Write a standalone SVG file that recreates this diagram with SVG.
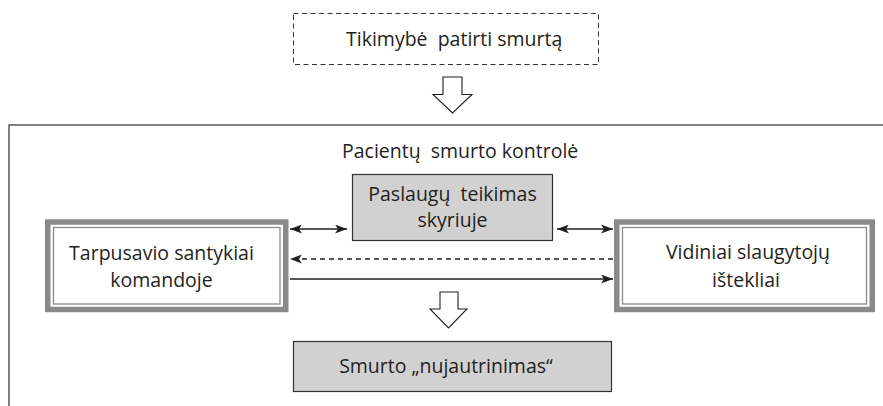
<svg xmlns="http://www.w3.org/2000/svg" width="883" height="406" viewBox="0 0 883 406">
<style>
  text { font-family: "Open Sans", "Noto Sans", "Liberation Sans", sans-serif; font-size: 19.5px; fill: #231f20; text-anchor: middle; white-space: pre; }
  .start { text-anchor: start; }
  .frame { fill: none; stroke: #555; stroke-width: 1.5; }
  .dbl-outer { fill: #fff; stroke: #8a8a8a; stroke-width: 5.5; }
  .dbl-inner { fill: none; stroke: #8a8a8a; stroke-width: 1.3; }
  .grey { fill: #d1d1d1; stroke: #333; stroke-width: 1.2; }
  .bigarrow { fill: #fff; stroke: #231f20; stroke-width: 1.1; stroke-linejoin: miter; }
  .conn { stroke: #231f20; stroke-width: 1.3; fill: none; }
</style>
<defs>
  <marker id="ah" viewBox="0 0 12 9" refX="12" refY="4.5" markerWidth="12" markerHeight="9" markerUnits="userSpaceOnUse" orient="auto-start-reverse">
    <path d="M0,0 L12,4.5 L0,9 L3,4.5 Z" fill="#231f20"/>
  </marker>
</defs>

<!-- outer frame -->
<path class="frame" d="M9,406 V125 H883"/>

<g id="node-tikimybe">
  <rect x="293.5" y="13.5" width="305" height="51" fill="#fff" stroke="#333" stroke-width="1" stroke-dasharray="5,3.5"/>
  <text class="start" x="346" y="46" xml:space="preserve">Tikimybė  patirti smurtą</text>
</g>

<g id="arrow-down-1">
  <path class="bigarrow" d="M443,77 H462 V94.5 H472 L452.5,113 L433,94.5 H443 Z"/>
</g>

<g id="label-kontrole">
  <text class="start" x="342" y="158" xml:space="preserve">Pacientų  smurto kontrolė</text>
</g>

<g id="node-paslaugu">
  <rect class="grey" x="352.5" y="174.5" width="200" height="66"/>
  <text x="452.5" y="201" xml:space="preserve">Paslaugų  teikimas</text>
  <text x="452.5" y="227">skyriuje</text>
</g>

<g id="node-tarpusavio">
  <rect class="dbl-outer" x="47.75" y="222" width="238" height="87.5"/>
  <rect class="dbl-inner" x="53.5" y="227.5" width="226.5" height="76.5"/>
  <text x="161.5" y="260">Tarpusavio santykiai</text>
  <text x="161.5" y="287">komandoje</text>
</g>

<g id="node-vidiniai">
  <rect class="dbl-outer" x="616.75" y="222" width="255.5" height="87.5"/>
  <rect class="dbl-inner" x="622.5" y="227.5" width="244" height="76.5"/>
  <text x="748" y="259">Vidiniai slaugytojų</text>
  <text x="746" y="287">ištekliai</text>
</g>

<g id="node-smurto">
  <rect class="grey" x="293.5" y="341.5" width="318" height="50"/>
  <text x="446" y="373">Smurto „nujautrinimas“</text>
</g>

<g id="connectors">
  <line class="conn" x1="290" y1="229" x2="347" y2="229" marker-start="url(#ah)" marker-end="url(#ah)"/>
  <line class="conn" x1="557" y1="229" x2="613" y2="229" marker-start="url(#ah)" marker-end="url(#ah)"/>
  <line class="conn" x1="613" y1="259" x2="290" y2="259" stroke-dasharray="5,4" marker-end="url(#ah)"/>
  <line class="conn" x1="290" y1="279" x2="613" y2="279" marker-end="url(#ah)"/>
  <path class="bigarrow" d="M440,292 H458 V309 H467 L448.5,328 L430,309 H440 Z"/>
</g>
</svg>
